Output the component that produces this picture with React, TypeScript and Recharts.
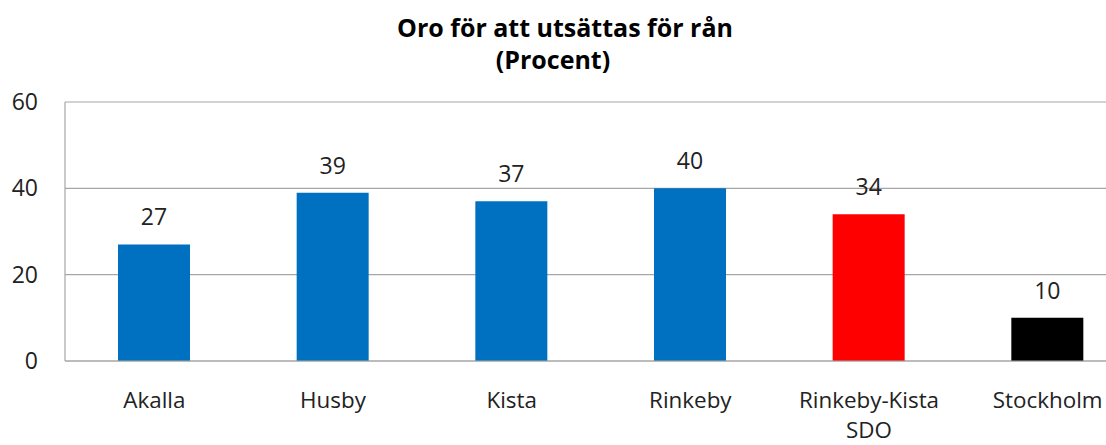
import React from "react";
import { BarChart, Bar, XAxis, YAxis, CartesianGrid, Cell, LabelList } from "recharts";

const categories = ["Akalla", "Husby", "Kista", "Rinkeby", "Rinkeby-Kista\nSDO", "Stockholm"];
const values = [27, 39, 37, 40, 34, 10];
const colors = ["#0070C0", "#0070C0", "#0070C0", "#0070C0", "#FF0000", "#000000"];
const yTicks = [0, 20, 40, 60];

const data = categories.map((c, i) => ({ name: c, value: values[i], color: colors[i] }));

const FONT = "'Open Sans', sans-serif";
const FS = 23;

const XTick = (props: any) => {
  const { x, y, payload } = props;
  const lines = String(payload.value).split("\n");
  return (
    <g>
      {lines.map((l, i) => (
        <text key={i} x={x} y={y + 47 + i * 30} textAnchor="middle" fontFamily={FONT} fontSize={22.4} fill="#222">
          {l}
        </text>
      ))}
    </g>
  );
};

const YTick = (props: any) => {
  const { y, payload } = props;
  return (
    <text x={38} y={y + 8} textAnchor="end" fontFamily={FONT} fontSize={FS} fill="#222">
      {payload.value}
    </text>
  );
};

const ValueLabel = (props: any) => {
  const { x, y, width, value } = props;
  return (
    <text x={x + width / 2} y={y - 19} textAnchor="middle" fontFamily={FONT} fontSize={FS} fill="#222">
      {value}
    </text>
  );
};

export default function App() {
  return (
    <div style={{ position: "absolute", left: 0, top: 0, width: 1106, height: 445, background: "#fff", overflow: "hidden" }}>
      <svg style={{ position: "absolute", left: 0, top: 0 }} width={1106} height={90}>
        <text x={565} y={37} textAnchor="middle" fontFamily={FONT} fontWeight="bold" fontSize={25} fill="#000">
          Oro för att utsättas för rån
        </text>
        <text x={553} y={69} textAnchor="middle" fontFamily={FONT} fontWeight="bold" fontSize={25} fill="#000">
          (Procent)
        </text>
      </svg>
      <div style={{ position: "absolute", left: 0, top: 0 }}>
        <BarChart
          width={1137}
          height={445}
          data={data}
          margin={{ top: 102, right: 0, bottom: 0, left: 0 }}
          barSize={72}
        >
          <CartesianGrid vertical={false} stroke="#A6A6A6" strokeWidth={1.2} />
          <XAxis
            dataKey="name"
            axisLine={{ stroke: "#A6A6A6", strokeWidth: 1.2 }}
            tickLine={false}
            tickSize={0}
            tickMargin={0}
            tick={<XTick />}
            interval={0}
            height={84}
          />
          <YAxis
            width={65}
            domain={[0, 60]}
            ticks={yTicks}
            axisLine={{ stroke: "#A6A6A6", strokeWidth: 1.2 }}
            tickLine={false}
            tick={<YTick />}
            interval={0}
          />
          <Bar dataKey="value" isAnimationActive={false}>
            {data.map((d, i) => (
              <Cell key={i} fill={d.color} />
            ))}
            <LabelList dataKey="value" content={<ValueLabel />} />
          </Bar>
        </BarChart>
      </div>
    </div>
  );
}
